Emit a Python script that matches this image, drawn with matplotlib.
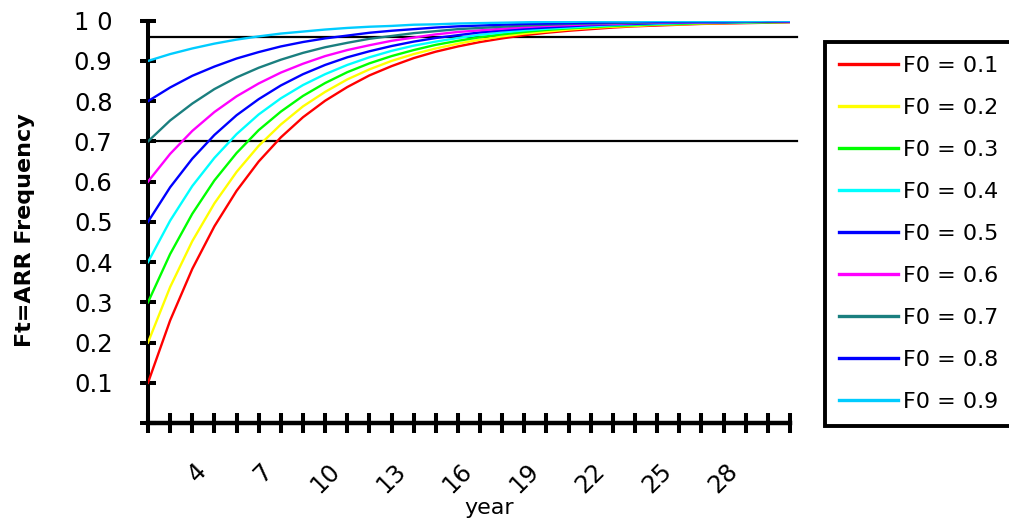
import matplotlib
matplotlib.use("Agg")
import matplotlib.pyplot as plt
import matplotlib.transforms as mtransforms

years = list(range(1, 31))

f01 = [0.100, 0.255, 0.383, 0.489, 0.577, 0.650, 0.710, 0.760, 0.801, 0.835,
       0.864, 0.887, 0.907, 0.923, 0.936, 0.947, 0.956, 0.964, 0.970, 0.975,
       0.979, 0.983, 0.986, 0.988, 0.990, 0.992, 0.993, 0.994, 0.995, 0.996]
f02 = [0.200, 0.338, 0.452, 0.546, 0.624, 0.689, 0.742, 0.787, 0.823, 0.854,
       0.879, 0.900, 0.917, 0.931, 0.943, 0.953, 0.961, 0.968, 0.973, 0.978,
       0.982, 0.985, 0.987, 0.990, 0.991, 0.993, 0.994, 0.995, 0.996, 0.997]
f03 = [0.300, 0.420, 0.520, 0.603, 0.671, 0.728, 0.774, 0.813, 0.845, 0.872,
       0.894, 0.912, 0.927, 0.940, 0.950, 0.959, 0.966, 0.972, 0.977, 0.981,
       0.984, 0.987, 0.989, 0.991, 0.992, 0.994, 0.995, 0.996, 0.996, 0.997]
f04 = [0.400, 0.503, 0.589, 0.659, 0.718, 0.767, 0.807, 0.840, 0.867, 0.890,
       0.909, 0.925, 0.938, 0.948, 0.957, 0.965, 0.971, 0.976, 0.980, 0.983,
       0.986, 0.989, 0.991, 0.992, 0.994, 0.995, 0.996, 0.996, 0.997, 0.997]
f05 = [0.500, 0.586, 0.657, 0.716, 0.765, 0.805, 0.839, 0.867, 0.890, 0.909,
       0.924, 0.937, 0.948, 0.957, 0.964, 0.971, 0.976, 0.980, 0.983, 0.986,
       0.989, 0.991, 0.992, 0.994, 0.995, 0.996, 0.996, 0.997, 0.997, 0.998]
f06 = [0.600, 0.669, 0.726, 0.773, 0.812, 0.844, 0.871, 0.893, 0.912, 0.927,
       0.939, 0.950, 0.958, 0.966, 0.972, 0.976, 0.980, 0.984, 0.987, 0.989,
       0.991, 0.992, 0.994, 0.995, 0.996, 0.996, 0.997, 0.998, 0.998, 0.998]
f07 = [0.700, 0.752, 0.794, 0.830, 0.859, 0.883, 0.903, 0.920, 0.934, 0.945,
       0.955, 0.962, 0.969, 0.974, 0.979, 0.982, 0.985, 0.988, 0.990, 0.992,
       0.993, 0.994, 0.995, 0.996, 0.997, 0.997, 0.998, 0.998, 0.998, 0.999]
f08 = [0.800, 0.834, 0.863, 0.886, 0.906, 0.922, 0.936, 0.947, 0.956, 0.963,
       0.970, 0.975, 0.979, 0.983, 0.986, 0.988, 0.990, 0.992, 0.993, 0.994,
       0.995, 0.996, 0.997, 0.997, 0.998, 0.998, 0.998, 0.999, 0.999, 0.999]
f09 = [0.900, 0.917, 0.931, 0.943, 0.953, 0.961, 0.968, 0.973, 0.978, 0.982,
       0.985, 0.987, 0.990, 0.991, 0.993, 0.994, 0.995, 0.996, 0.997, 0.997,
       0.998, 0.998, 0.998, 0.999, 0.999, 0.999, 0.999, 0.999, 1.000, 1.000]

series = [f01, f02, f03, f04, f05, f06, f07, f08, f09]
labels = ["F0 = 0.1", "F0 = 0.2", "F0 = 0.3", "F0 = 0.4", "F0 = 0.5",
          "F0 = 0.6", "F0 = 0.7", "F0 = 0.8", "F0 = 0.9"]
colors = ["#ff0000", "#ffff00", "#00ff00", "#00ffff", "#0000ff",
          "#ff00ff", "#1a7f7f", "#0000ff", "#00ccff"]

ref_lines = [0.7, 0.96]
yticks = [0.0, 0.1, 0.2, 0.3, 0.4, 0.5, 0.6, 0.7, 0.8, 0.9, 1.0]
yticklabels = ["", "0.1", "0.2", "0.3", "0.4", "0.5", "0.6", "0.7", "0.8", "0.9", "1 0"]
xlabelled = [4, 7, 10, 13, 16, 19, 22, 25, 28]

plt.rcParams['font.family'] = ['DejaVu Sans']

fig = plt.figure(figsize=(10.09, 5.24), dpi=100)
ax = fig.add_axes([148 / 1009, 101 / 524, 642 / 1009, 402.3 / 524])

for y, c, lab in zip(series, colors, labels):
    ax.plot(years, y, color=c, lw=1.7, label=lab, zorder=3)

for r in ref_lines:
    ax.axhline(r, xmin=0, xmax=1.011, color="black", lw=1.6, clip_on=False, zorder=2)

ax.set_xlim(1, 30)
ax.set_ylim(0, 1.0)

for s in ["top", "right"]:
    ax.spines[s].set_visible(False)
ax.spines["left"].set_linewidth(2.9)
ax.spines["bottom"].set_linewidth(3.2)

ax.set_yticks(yticks)
ax.set_yticklabels(yticklabels)
ax.set_xticks(years)
ax.set_xticklabels([str(v) if v in xlabelled else "" for v in years])

ax.tick_params(axis="y", direction="inout", length=11, width=2.9, pad=20,
               labelsize=17.5)
ax.tick_params(axis="x", direction="inout", length=15, width=2.9, pad=18,
               labelsize=17.5)

shift = mtransforms.ScaledTranslation(-0.2, 0, fig.dpi_scale_trans)
for lbl in ax.get_xticklabels():
    lbl.set_rotation(45)
    lbl.set_ha("right")
    lbl.set_va("top")
    lbl.set_rotation_mode("anchor")
    lbl.set_transform(lbl.get_transform() + shift)

fig.text(489 / 1009, 1 - 514 / 524, "year", ha="center", va="baseline", fontsize=16)
fig.text(25 / 1009, 1 - 230 / 524, "Ft=ARR Frequency", rotation=90, ha="center",
         va="center", fontsize=16, fontweight="bold")

leg = fig.legend(loc="upper left", bbox_to_anchor=(825 / 1009, 1 - 42 / 524),
                 bbox_transform=fig.transFigure, borderaxespad=0, fontsize=16,
                 handlelength=2.65, handletextpad=0.22, labelspacing=0.99,
                 borderpad=0.62, fancybox=False, framealpha=1)
leg.get_frame().set_edgecolor("black")
leg.get_frame().set_linewidth(2.8)
for h in leg.get_lines():
    h.set_linewidth(2.4)

fig.savefig("out.png", dpi=100)
